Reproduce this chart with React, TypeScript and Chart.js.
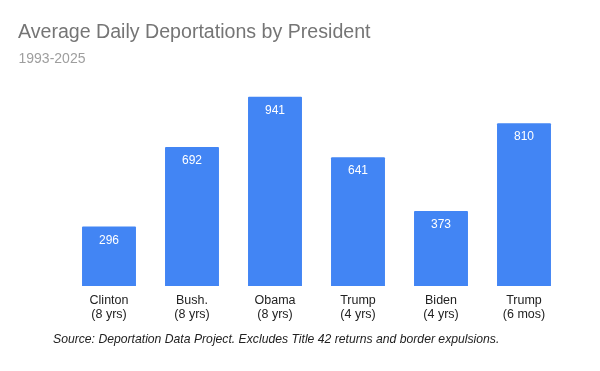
import React, { useEffect, useRef } from "react";
import { Chart, registerables } from "chart.js";

Chart.register(...registerables);

const TITLE = "Average Daily Deportations by President";
const SUBTITLE = "1993-2025";
const FOOTER = "Source: Deportation Data Project. Excludes Title 42 returns and border expulsions.";
const presidents = ["Clinton", "Bush.", "Obama", "Trump", "Biden", "Trump"];
const terms = ["(8 yrs)", "(8 yrs)", "(8 yrs)", "(4 yrs)", "(4 yrs)", "(6 mos)"];
const dailyDeportations = [296, 692, 941, 641, 373, 810];

const FONT = "'Liberation Sans', Arial, sans-serif";

const textPlugin = {
  id: "textPlugin",
  afterDatasetsDraw(chart: any) {
    const ctx = chart.ctx;
    ctx.save();
    // bar value labels
    const meta = chart.getDatasetMeta(0);
    ctx.fillStyle = "#ffffff";
    ctx.font = `12px ${FONT}`;
    ctx.textAlign = "center";
    ctx.textBaseline = "alphabetic";
    meta.data.forEach((bar: any, i: number) => {
      ctx.fillText(String(dailyDeportations[i]), bar.x, bar.y + 17);
    });
    // title
    ctx.textAlign = "left";
    ctx.fillStyle = "#757575";
    ctx.font = `19.6px ${FONT}`;
    ctx.fillText(TITLE, 18, 37.5);
    ctx.fillStyle = "#9e9e9e";
    ctx.font = `14px ${FONT}`;
    ctx.fillText(SUBTITLE, 18.5, 63.3);
    // footer
    ctx.fillStyle = "#222222";
    ctx.font = `italic 12.2px ${FONT}`;
    ctx.fillText(FOOTER, 53, 343);
    ctx.restore();
  },
};

export default function App() {
  const ref = useRef<HTMLCanvasElement>(null);
  useEffect(() => {
    document.body.style.margin = "0";
    const chart = new Chart(ref.current as HTMLCanvasElement, {
      type: "bar",
      data: {
        labels: presidents.map((p, i) => [p, terms[i]]),
        datasets: [
          {
            data: dailyDeportations,
            backgroundColor: "#4285F4",
            borderRadius: 1,
            borderSkipped: "bottom",
            barPercentage: 0.65,
            categoryPercentage: 1,
          },
        ],
      },
      options: {
        animation: false,
        responsive: false,
        devicePixelRatio: 1,
        layout: { padding: { left: 67.5, right: 34.5, top: 85, bottom: 45 } },
        plugins: { legend: { display: false }, tooltip: { enabled: false } },
        scales: {
          x: {
            grid: { display: false, drawTicks: false },
            border: { display: false },
            ticks: {
              color: "#222222",
              font: { family: FONT, size: 12.5, lineHeight: 1.15 },
              padding: 7,
              maxRotation: 0,
              autoSkip: false,
            },
            afterFit: (s: any) => {
              s.height = 40;
            },
          },
          y: {
            display: false,
            min: 0,
            max: 1000,
          },
        },
      },
      plugins: [textPlugin],
    });
    return () => chart.destroy();
  }, []);
  return (
    <div style={{ width: 600, height: 371, background: "#fff" }}>
      <canvas ref={ref} width={600} height={371} />
    </div>
  );
}
